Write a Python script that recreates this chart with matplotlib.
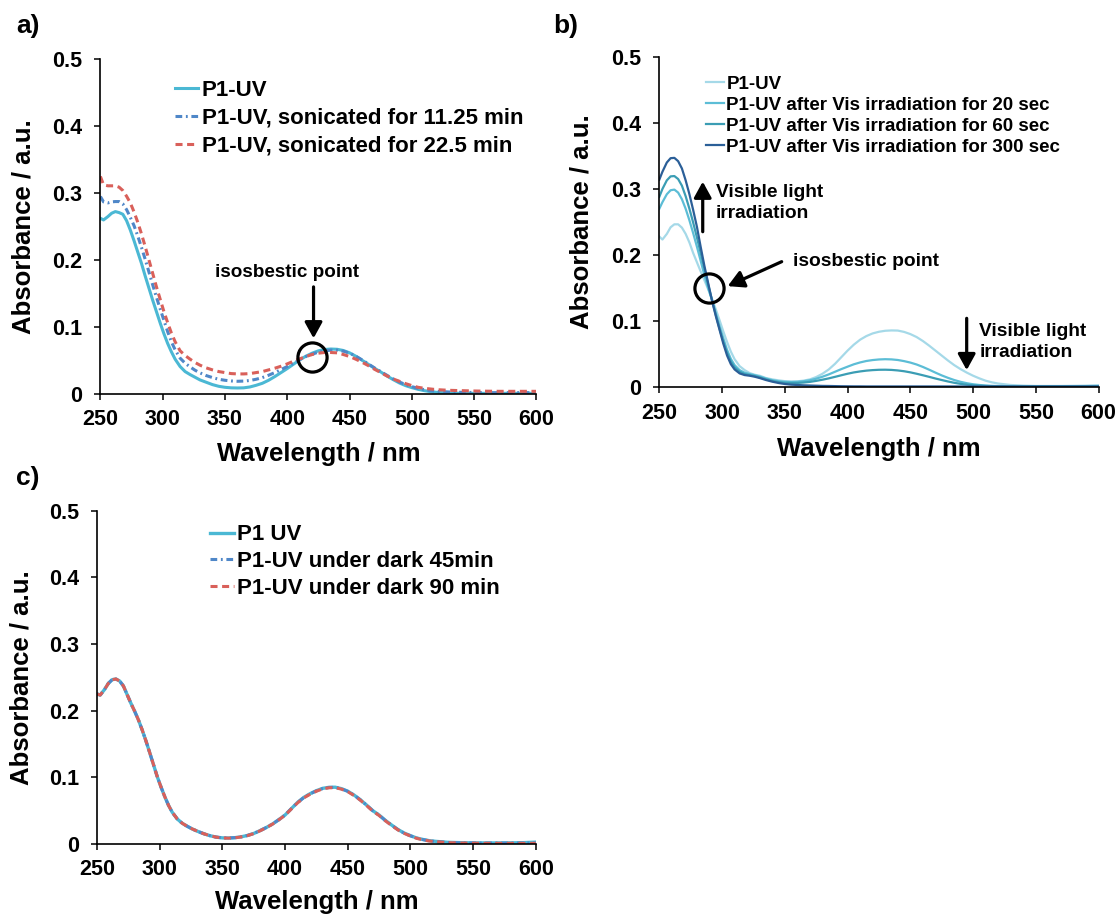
import matplotlib
matplotlib.use("Agg")
import matplotlib.pyplot as plt

plt.rcParams['font.family'] = ['Liberation Sans', 'DejaVu Sans']
plt.rcParams['font.weight'] = 'bold'

# ---------------- data ----------------
x_ticks = [250, 300, 350, 400, 450, 500, 550, 600]
x_tick_labels = ['250', '300', '350', '400', '450', '500', '550', '600']
y_ticks = [0, 0.1, 0.2, 0.3, 0.4, 0.5]
y_tick_labels = ['0', '0.1', '0.2', '0.3', '0.4', '0.5']

wl = [250, 252.5, 256, 259, 262, 265, 268, 271, 274, 277, 280, 283, 286, 289, 292, 295,
      298, 301, 304, 307, 310, 314, 318, 322, 326, 330, 335, 340, 345, 350, 355, 360,
      365, 370, 375, 380, 385, 390, 395, 400, 405, 410, 415, 420, 425, 430, 435, 440,
      445, 450, 455, 460, 465, 470, 475, 480, 485, 490, 495, 500, 505, 510, 515, 520,
      530, 540, 550, 560, 570, 580, 590, 600]

# panel a
a_labels = ['P1-UV', 'P1-UV, sonicated for 11.25 min', 'P1-UV, sonicated for 22.5 min']
a_p1uv = [.2625, .260, .265, .270, .2725, .271, .2685, .259, .245, .229, .212, .195, .176, .158, .140, .123,
          .106, .090, .0755, .063, .052, .041, .0335, .029, .025, .021, .0175, .014, .0115, .0100, .0092, .009,
          .0092, .0105, .013, .016, .0205, .026, .032, .038, .0445, .051, .0565, .061, .0645, .0665, .0672, .0668,
          .0650, .0615, .0565, .0505, .0445, .0385, .033, .027, .0215, .0165, .0125, .0095, .007, .005, .0035, .0025,
          .0015, .001, .001, .001, .001, .001, .001, .001]
a_son11 = [.295, .287, .2855, .287, .2875, .2875, .284, .2755, .264, .2515, .236, .219, .201, .182, .163, .1445,
           .127, .110, .093, .078, .066, .0535, .046, .0405, .0355, .0315, .0275, .0245, .022, .0205, .0195, .019,
           .0193, .0202, .022, .0245, .028, .032, .0365, .041, .046, .0515, .056, .0595, .0625, .0645, .0655, .0655,
           .064, .061, .0565, .051, .045, .039, .0335, .028, .0225, .018, .014, .011, .0085, .0065, .005, .004,
           .003, .0025, .0022, .002, .002, .002, .002, .002]
a_son22 = [.325, .3125, .311, .311, .311, .309, .304, .2955, .2855, .272, .2565, .239, .220, .200, .180, .160,
           .1415, .123, .1065, .091, .078, .0645, .0575, .052, .047, .043, .039, .036, .0335, .032, .0305, .030,
           .030, .0305, .032, .0335, .036, .0385, .0415, .045, .049, .0525, .056, .059, .061, .062, .062, .0615,
           .059, .056, .052, .0475, .0425, .037, .032, .027, .0225, .019, .0155, .0125, .010, .0085, .0075, .0065,
           .0055, .005, .0045, .0042, .004, .004, .004, .004]

# panel b
b_labels = ['P1-UV', 'P1-UV after Vis irradiation for 20 sec',
            'P1-UV after Vis irradiation for 60 sec', 'P1-UV after Vis irradiation for 300 sec']
b_p1uv = [.228, .2235, .232, .242, .2465, .2465, .2415, .232, .219, .203, .189, .175, .1615, .148, .1335, .118,
          .1015, .0845, .0685, .054, .0425, .032, .026, .0215, .019, .0175, .014, .012, .0105, .0093, .0088, .009,
          .0101, .012, .0155, .0205, .027, .0355, .0455, .0555, .0645, .0720, .0775, .0815, .084, .0855, .086, .0858,
          .0838, .0805, .076, .0700, .063, .0555, .048, .0405, .0335, .0275, .0222, .0175, .0135, .0100, .0075, .0057,
          .0035, .0025, .002, .002, .002, .0022, .0025, .003]
b_20s = [.270, .280, .292, .298, .299, .2945, .2845, .270, .2525, .233, .2125, .191, .169, .1495, .132, .1125,
         .0925, .074, .0565, .043, .0335, .026, .022, .020, .0183, .0163, .0133, .0108, .0092, .0083, .0080, .0083,
         .0092, .0107, .013, .016, .0195, .0235, .0275, .0312, .0348, .0376, .0398, .0412, .0421, .0425, .0422, .0413,
         .0396, .0374, .0345, .0308, .0266, .0222, .0180, .0143, .011, .0083, .0062, .0046, .0035, .0027, .0022, .0019,
         .0016, .0015, .0015, .0015, .0015, .0016, .0018, .002]
b_60s = [.288, .300, .313, .319, .3195, .315, .305, .289, .270, .249, .2265, .203, .179, .155, .1315, .1095,
         .0885, .069, .052, .039, .030, .0235, .020, .0185, .017, .015, .012, .0095, .0078, .0068, .0065, .0066,
         .0072, .0082, .0097, .0115, .0135, .0158, .0182, .0205, .0225, .0240, .0252, .026, .0265, .0266, .0263, .0255,
         .0243, .0226, .0205, .0182, .0158, .0133, .011, .0088, .0068, .0052, .004, .003, .0024, .002, .0017, .0015,
         .0014, .0013, .0013, .0013, .0013, .0013, .0014, .0015]
b_300s = [.314, .326, .340, .3465, .347, .342, .331, .313, .292, .268, .2425, .212, .183, .157, .131, .108,
          .087, .066, .048, .035, .027, .021, .0185, .0175, .016, .014, .011, .0085, .0065, .005, .004, .0035,
          .003, .0027, .0024, .0021, .002, .0018, .0016, .0015, .0014, .0014, .0013, .0013, .0013, .0013, .0013, .0013,
          .0013, .0013, .0013, .0013, .0013, .0013, .0013, .0013, .0013, .0013, .0013, .0013, .0013, .0013, .0013, .0013,
          .0012, .0012, .0012, .0012, .0012, .0012, .0012, .0012]

# panel c
c_labels = ['P1 UV', 'P1-UV under dark 45min', 'P1-UV under dark 90 min']
c_p1uv = [.225, .2235, .232, .241, .2465, .2475, .2445, .237, .224, .211, .199, .186, .171, .1545, .137, .119,
          .101, .0855, .071, .058, .0475, .0375, .031, .0265, .0225, .0192, .0155, .0125, .0103, .0092, .009, .0095,
          .0108, .0128, .0158, .020, .0247, .030, .0365, .0435, .053, .0625, .070, .0755, .080, .0835, .085, .0852,
          .083, .0792, .0735, .0665, .0585, .050, .0435, .0355, .0285, .0218, .0165, .0125, .009, .0068, .005, .004,
          .0025, .002, .0017, .0016, .0016, .0017, .002, .0028]
c_dark45 = [.225, .2235, .232, .241, .2465, .2475, .2445, .237, .224, .211, .199, .186, .171, .1545, .137, .119,
            .101, .0855, .071, .058, .0475, .0375, .031, .0265, .0225, .0192, .0155, .0125, .0103, .0092, .009, .0095,
            .0108, .0128, .0158, .020, .0247, .030, .0365, .0435, .053, .0622, .0697, .0752, .0797, .0832, .0848, .0850,
            .0828, .0790, .0733, .0663, .0583, .0498, .0433, .0353, .0283, .0216, .0163, .0123, .0088, .0066, .0048, .0038,
            .0023, .0018, .0015, .0014, .0014, .0014, .0015, .0016]
c_dark90 = [.225, .2235, .232, .241, .2465, .2475, .2445, .237, .224, .211, .199, .186, .171, .1545, .137, .119,
            .101, .0855, .071, .058, .0475, .0375, .031, .0265, .0225, .0192, .0155, .0125, .0103, .0090, .0088, .0093,
            .0106, .0126, .0156, .0198, .0245, .0298, .0362, .0432, .0525, .0618, .0692, .0747, .0792, .0827, .0843, .0845,
            .0823, .0785, .0728, .0658, .0578, .0493, .0428, .0348, .0278, .0212, .0160, .0120, .0085, .0062, .0045, .0035,
            .0020, .0015, .0012, .0010, .0010, .0010, .0010, .0010]

# ---------------- figure ----------------
W, H = 1120, 916
fig = plt.figure(figsize=(W / 100, H / 100), dpi=100)


def add_axes_px(left, top, right, bottom):
    return fig.add_axes([left / W, 1 - bottom / H, (right - left) / W, (bottom - top) / H])


def style(ax, ylab_x, xlab_y):
    ax.set_xlim(250, 600)
    ax.set_ylim(0, 0.5)
    ax.set_xticks(x_ticks)
    ax.set_xticklabels(x_tick_labels)
    ax.set_yticks(y_ticks)
    ax.set_yticklabels(y_tick_labels)
    for s in ['top', 'right']:
        ax.spines[s].set_visible(False)
    for s in ['left', 'bottom']:
        ax.spines[s].set_linewidth(1.2)
        ax.spines[s].set_color('black')
    ax.tick_params(direction='out', length=4, width=1.1, labelsize=15.5, colors='black')
    ax.tick_params(axis='x', pad=7)
    ax.tick_params(axis='y', pad=9)
    for lab in ax.get_xticklabels() + ax.get_yticklabels():
        lab.set_fontweight('bold')
    ax.set_xlabel('Wavelength / nm', fontsize=18.5, fontweight='bold')
    ax.set_ylabel('Absorbance / a.u.', fontsize=18.5, fontweight='bold')
    ax.xaxis.set_label_coords(0.5, xlab_y)
    ax.yaxis.set_label_coords(ylab_x, 0.5)


def arrow(ax, tail, tip):
    ax.annotate('', xy=tip, xytext=tail,
                arrowprops=dict(arrowstyle='-|>,head_length=0.6,head_width=0.33',
                                lw=2.3, color='black', shrinkA=0, shrinkB=0,
                                mutation_scale=16))


def ring(ax, xy):
    ax.plot([xy[0]], [xy[1]], marker='o', ms=21, mfc='none', mec='black', mew=2.3, ls='none')


c_solid = '#4bb8d4'
c_dashdot = '#4f87c8'
c_dash = '#d9605a'
dashdot = (0, (2.2, 1.2, 0.6, 1.2))
dash = (0, (2.3, 1.5))

# ---- panel a ----
axa = add_axes_px(100.4, 59.3, 536.4, 394)
style(axa, -0.148, -0.144)
la1, = axa.plot(wl, a_p1uv, color=c_solid, lw=2.2)
la2, = axa.plot(wl, a_son11, color=c_dashdot, lw=2.2, ls=dashdot)
la3, = axa.plot(wl, a_son22, color=c_dash, lw=2.2, ls=dash)
axa.legend([la1, la2, la3], a_labels, loc='upper left', bbox_to_anchor=(0.171, 0.938),
           frameon=False, prop={'size': 16, 'weight': 'bold'}, handlelength=1.04,
           handletextpad=0.16, labelspacing=0.31, borderpad=0, borderaxespad=0)
axa.text(399.5, 0.181, 'isosbestic point', fontsize=13.6, fontweight='bold', ha='center', va='center')
arrow(axa, (421.1, 0.160), (421.1, 0.0832))
ring(axa, (419.7, 0.0557))

# ---- panel b ----
axb = add_axes_px(659.3, 56.7, 1098.6, 387.3)
style(axb, -0.149, -0.151)
b_colors = ['#a5d9e8', '#5cbdd6', '#3b9db4', '#2b5f98']
lines_b = []
for series, col in zip([b_p1uv, b_20s, b_60s, b_300s], b_colors):
    l, = axb.plot(wl, series, color=col, lw=1.6)
    lines_b.append(l)
axb.legend(lines_b, b_labels, loc='upper left', bbox_to_anchor=(0.1056, 0.942),
           frameon=False, prop={'size': 13.5, 'weight': 'bold'}, handlelength=1.0,
           handletextpad=0.1, labelspacing=0.2, borderpad=0, borderaxespad=0)
arrow(axb, (284.6, 0.2353), (284.6, 0.311))
axb.text(295.2, 0.279, 'Visible light\nirradiation', fontsize=13.8, fontweight='bold',
         ha='left', va='center', linespacing=1.35)
axb.text(356.3, 0.19, 'isosbestic point', fontsize=13.8, fontweight='bold', ha='left', va='center')
arrow(axb, (347.5, 0.19), (304.5, 0.153))
ring(axb, (289.8, 0.150))
arrow(axb, (494.9, 0.1043), (494.9, 0.026))
axb.text(504.9, 0.0685, 'Visible light\nirradiation', fontsize=13.8, fontweight='bold',
         ha='left', va='center', linespacing=1.35)

# ---- panel c ----
axc = add_axes_px(97.1, 510.7, 535.7, 844)
style(axc, -0.144, -0.1395)
lc1, = axc.plot(wl, c_p1uv, color=c_solid, lw=2.4)
lc2, = axc.plot(wl, c_dark45, color=c_dashdot, lw=2.2, ls=dashdot)
lc3, = axc.plot(wl, c_dark90, color=c_dash, lw=2.2, ls=dash)
axc.legend([lc1, lc2, lc3], c_labels, loc='upper left', bbox_to_anchor=(0.257, 0.959),
           frameon=False, prop={'size': 16, 'weight': 'bold'}, handlelength=1.08,
           handletextpad=0.16, labelspacing=0.26, borderpad=0, borderaxespad=0)

# panel labels
fig.text(16 / W, 1 - 26 / H, 'a)', fontsize=19, fontweight='bold', ha='left', va='center')
fig.text(553 / W, 1 - 26 / H, 'b)', fontsize=19, fontweight='bold', ha='left', va='center')
fig.text(16 / W, 1 - 478 / H, 'c)', fontsize=19, fontweight='bold', ha='left', va='center')

fig.savefig('out.png', dpi=100, facecolor='white')
